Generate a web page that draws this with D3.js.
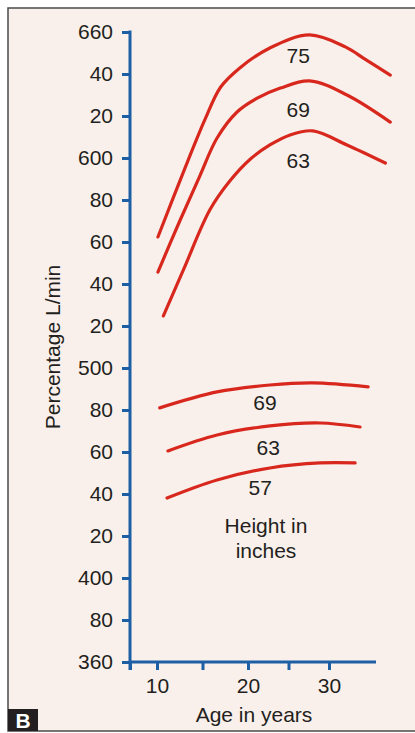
<!DOCTYPE html>
<html>
<head>
<meta charset="utf-8">
<script src="https://cdn.jsdelivr.net/npm/d3@7"></script>
<style>
  html, body { margin: 0; padding: 0; background: #ffffff; }
  svg { display: block; }
  text { font-family: "Liberation Sans", Arial, sans-serif; }
</style>
</head>
<body>
<svg id="chart" width="415" height="733"></svg>
<script>
// ---- data ----
const heightLabels = ["75", "69", "63", "69", "63", "57"];
const series75Age = [10.1, 12.9, 15.3, 17.0, 19.1, 22.7, 27.6, 32.0, 34.4, 37.5];
const series75Val = [562.4, 593.3, 618.6, 633.8, 642.9, 652.4, 658.6, 652.9, 647.1, 639.5];
const series69Age = [10.1, 12.5, 14.7, 16.6, 18.8, 21.2, 24.0, 27.6, 32.2, 37.5];
const series69Val = [545.7, 570.0, 591.4, 609.5, 621.9, 628.6, 633.3, 636.7, 630.0, 617.1];
const series63Age = [10.7, 12.9, 15.8, 18.0, 20.3, 22.7, 25.2, 28.0, 32.2, 36.9];
const series63Val = [524.8, 546.7, 575.2, 589.0, 599.5, 606.2, 611.0, 612.9, 606.2, 597.6];
const lower69Age = [10.3, 16.6, 22.7, 28.0, 34.8];
const lower69Val = [481.0, 488.6, 491.9, 492.9, 491.0];
const lower63Age = [11.2, 16.6, 22.7, 28.9, 33.8];
const lower63Val = [460.5, 468.1, 472.4, 473.8, 471.9];
const lower57Age = [11.1, 16.6, 22.7, 28.9, 33.2];
const lower57Val = [438.1, 446.7, 452.4, 454.8, 454.8];
const labelAge = [26.2, 26.2, 26.2, 22.1, 22.5, 21.5];
const labelVal = [648.6, 623.3, 599, 483.8, 462, 442.9];
const yTickValues = [660, 640, 620, 600, 580, 560, 540, 520, 500, 480, 460, 440, 420, 400, 380, 360];
const yTickLabels = ["660", "40", "20", "600", "80", "60", "40", "20", "500", "80", "60", "40", "20", "400", "80", "360"];
const xTickValues = [7, 10, 15, 20, 25, 30];
const xTickLabels = ["", "10", "", "20", "", "30"];
const xDomain = [7, 10, 20, 30, 36];
const yDomain = [360, 660];

// ---- setup ----
const svg = d3.select("#chart");
const bg = "#faf0eb", blue = "#1c5fa5", red = "#d8281e", ink = "#231f20";
const fs = "21px";

svg.append("rect").attr("x", 0).attr("y", 0).attr("width", 415).attr("height", 733).attr("fill", "#ffffff");
svg.append("rect").attr("x", 8).attr("y", 8).attr("width", 420).attr("height", 723)
  .attr("fill", bg).attr("stroke", "#4a4a4a").attr("stroke-width", 1.5);

const x = d3.scaleLinear().domain(xDomain).range([130, 157, 248, 329, 378]);
const y = d3.scaleLinear().domain(yDomain).range([662, 32]);

// y axis
const yAxis = d3.axisLeft(y).tickValues(yTickValues)
  .tickFormat((d, i) => yTickLabels[i]).tickSize(8).tickSizeOuter(0).tickPadding(9);
const gy = svg.append("g").attr("transform", "translate(130,0)").call(yAxis);
gy.select(".domain").remove();
gy.selectAll(".tick line").attr("stroke", blue).attr("stroke-width", 3);
gy.selectAll(".tick text").attr("fill", ink).style("font-size", fs);
svg.append("line").attr("x1", 130).attr("x2", 130).attr("y1", y(660) - 1.5).attr("y2", y(360) + 8)
  .attr("stroke", blue).attr("stroke-width", 3);

// x axis
const xAxis = d3.axisBottom(x).tickValues(xTickValues)
  .tickFormat((d, i) => xTickLabels[i]).tickSize(8).tickSizeOuter(0).tickPadding(8);
const gx = svg.append("g").attr("transform", `translate(0,${y(360)})`).call(xAxis);
gx.select(".domain").remove();
gx.selectAll(".tick line").attr("stroke", blue).attr("stroke-width", 3);
gx.selectAll(".tick text").attr("fill", ink).style("font-size", fs);
svg.append("line").attr("x1", 130).attr("x2", 376).attr("y1", y(360)).attr("y2", y(360))
  .attr("stroke", blue).attr("stroke-width", 3);

// curves
const allSeries = [
  [series75Age, series75Val], [series69Age, series69Val], [series63Age, series63Val],
  [lower69Age, lower69Val], [lower63Age, lower63Val], [lower57Age, lower57Val]
];
const line = d3.line().x(d => x(d[0])).y(d => y(d[1])).curve(d3.curveCatmullRom.alpha(0.5));
allSeries.forEach(([ages, vals]) => {
  svg.append("path").datum(ages.map((a, i) => [a, vals[i]]))
    .attr("d", line).attr("fill", "none").attr("stroke", red)
    .attr("stroke-width", 3.2).attr("stroke-linecap", "round");
});

// curve labels
heightLabels.forEach((t, i) => {
  svg.append("text").attr("x", x(labelAge[i])).attr("y", y(labelVal[i]))
    .attr("text-anchor", "middle").attr("dominant-baseline", "central")
    .attr("fill", ink).style("font-size", fs).text(t);
});

svg.append("text").attr("x", 266).attr("y", 533).attr("text-anchor", "middle")
  .attr("fill", ink).style("font-size", fs).text("Height in");
svg.append("text").attr("x", 266).attr("y", 558).attr("text-anchor", "middle")
  .attr("fill", ink).style("font-size", fs).text("inches");

// axis titles
svg.append("text").attr("x", 254).attr("y", 722).attr("text-anchor", "middle")
  .attr("fill", ink).style("font-size", fs).text("Age in years");
svg.append("text").attr("transform", "translate(60,347) rotate(-90)").attr("text-anchor", "middle")
  .attr("fill", ink).style("font-size", fs).text("Percentage L/min");

// panel letter
svg.append("rect").attr("x", 8).attr("y", 709).attr("width", 30).attr("height", 22).attr("fill", ink);
svg.append("text").attr("x", 23).attr("y", 728).attr("text-anchor", "middle")
  .attr("fill", "#ffffff").style("font-size", "21px").style("font-weight", "bold").text("B");
</script>
</body>
</html>
